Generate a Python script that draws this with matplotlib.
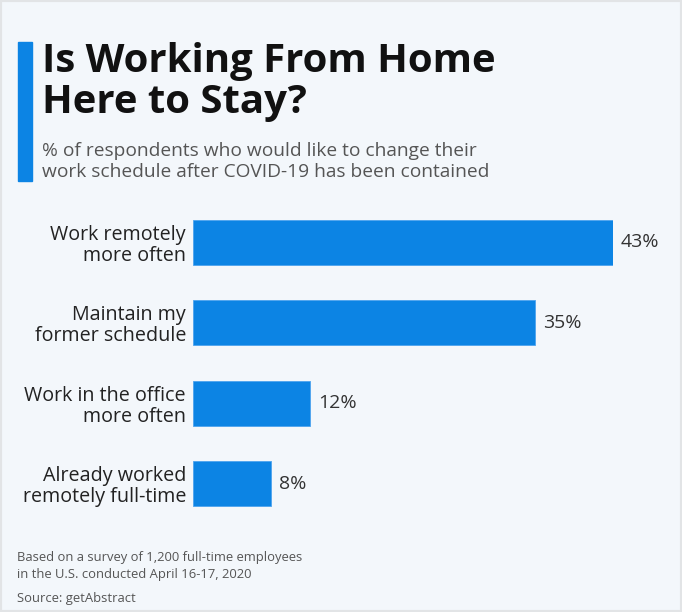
import matplotlib.pyplot as plt
from matplotlib import font_manager
from matplotlib.font_manager import FontProperties
from matplotlib.patches import Rectangle

# data
categories = ['Work remotely\nmore often', 'Maintain my\nformer schedule',
              'Work in the office\nmore often', 'Already worked\nremotely full-time']
values = [43, 35, 12, 8]
value_labels = ['43%', '35%', '12%', '8%']

title = 'Is Working From Home\nHere to Stay?'
subtitle = '% of respondents who would like to change their\nwork schedule after COVID-19 has been contained'
footer = 'Based on a survey of 1,200 full-time employees\nin the U.S. conducted April 16-17, 2020'
source = 'Source: getAbstract'

BLUE = '#0c84e4'
BG = '#f3f7fb'
W, H = 682, 612

plt.rcParams['font.family'] = ['Open Sans', 'DejaVu Sans']


def wnum(w):
    if isinstance(w, str):
        return font_manager.weight_dict.get(w, 400)
    return w


# the footer uses a condensed, regular-weight face; take one if the system has it
foot_prop = FontProperties(family=['Open Sans'], size=9.4)
for cand in ['Open Sans Condensed', 'Liberation Sans Narrow', 'DejaVu Sans Condensed']:
    fonts = [f for f in font_manager.fontManager.ttflist
             if f.name == cand and f.style == 'normal']
    if not fonts:
        continue
    best = min(fonts, key=lambda f: abs(wnum(f.weight) - 400))
    if wnum(best.weight) < 600:
        foot_prop = FontProperties(fname=best.fname, size=11)
        break

fig = plt.figure(figsize=(W / 100, H / 100), dpi=100, facecolor=BG)

# thin grey frame like the screenshot
fig.patches.append(Rectangle((0, 0), 1, 1, transform=fig.transFigure, fill=False,
                             edgecolor='#e2e4e6', linewidth=3, zorder=0))

# blue accent strip next to the title
fig.patches.append(Rectangle((18 / W, 1 - 181 / H), 14 / W, 139 / H,
                             transform=fig.transFigure, color=BLUE, zorder=1))

# va='baseline' on multi-line text pins the last line
fig.text(42 / W, 1 - 113 / H, title, fontsize=28.9, fontweight='bold', color='#111111',
         va='baseline', ha='left', linespacing=1.07)
fig.text(42 / W, 1 - 177 / H, subtitle, fontsize=13.8, color='#555555',
         va='baseline', ha='left', linespacing=1.25)

# bar area
ax = fig.add_axes([193 / W, 1 - 523.7 / H, 420 / W, 321.4 / H])
ax.set_facecolor(BG)
ypos = list(range(len(values)))
ax.barh(ypos, values, height=0.56, color=BLUE, edgecolor='#4da3ee', linewidth=0.6)
ax.set_xlim(0, 43)
ax.set_ylim(3.5, -0.5)
for y, v, lab in zip(ypos, values, value_labels):
    ax.text(v + 0.8, y, lab, fontsize=14, color='#333333', va='center', ha='left')
ax.set_yticks(ypos)
ax.set_yticklabels(categories, fontsize=14.2, color='#222222', linespacing=1.07)
ax.tick_params(axis='y', length=0, pad=5)
ax.set_xticks([])
for s in ax.spines.values():
    s.set_visible(False)

fig.text(17 / W, 1 - 578 / H, footer, color='#555555', va='baseline', ha='left',
         linespacing=1.35, fontproperties=foot_prop)
fig.text(17 / W, 1 - 602 / H, source, color='#555555', va='baseline', ha='left',
         fontproperties=foot_prop)

fig.savefig('out.png', dpi=100, facecolor=BG)
